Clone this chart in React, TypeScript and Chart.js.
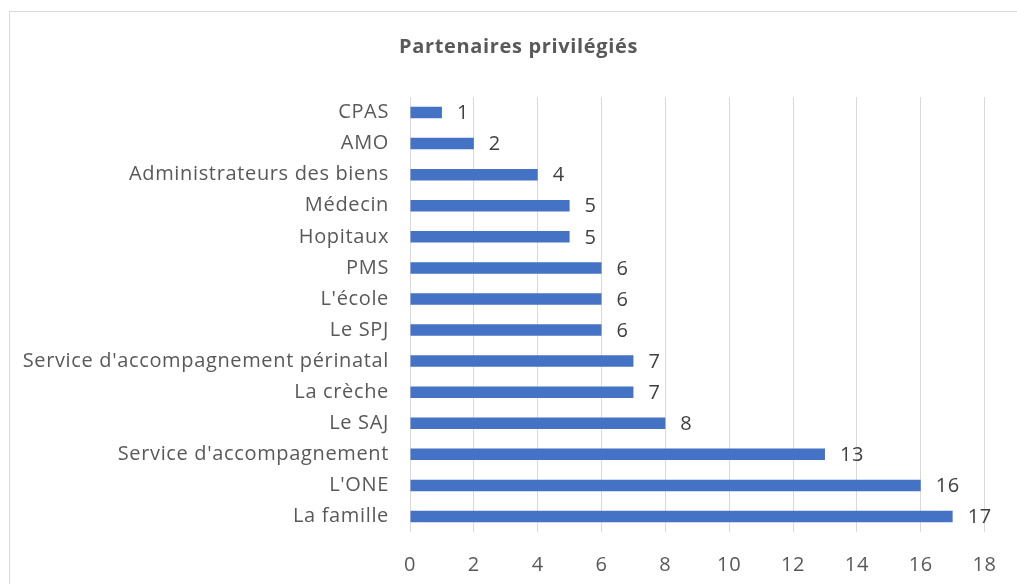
import React, { useEffect, useRef } from "react";
import { Chart, registerables } from "chart.js";

Chart.register(...registerables);

const chartTitle = "Partenaires privilégiés";
const categories = [
  "CPAS",
  "AMO",
  "Administrateurs des biens",
  "Médecin",
  "Hopitaux",
  "PMS",
  "L'école",
  "Le SPJ",
  "Service d'accompagnement périnatal",
  "La crèche",
  "Le SAJ",
  "Service d'accompagnement",
  "L'ONE",
  "La famille",
];
const values = [1, 2, 4, 5, 5, 6, 6, 6, 7, 7, 8, 13, 16, 17];
const xMin = 0;
const xMax = 18;
const xStep = 2;

const FONT = "'Open Sans', Lato, sans-serif";

const spacingPlugin = {
  id: "spacing",
  beforeDraw(chart: any) {
    chart.ctx.letterSpacing = "0.65px";
  },
};

const dataLabelPlugin = {
  id: "dataLabels",
  afterDatasetsDraw(chart: any) {
    const ctx = chart.ctx;
    const meta = chart.getDatasetMeta(0);
    ctx.save();
    ctx.font = `20px ${FONT}`;
    ctx.fillStyle = "#404040";
    ctx.textAlign = "left";
    ctx.textBaseline = "middle";
    meta.data.forEach((bar: any, i: number) => {
      const v = chart.data.datasets[0].data[i];
      ctx.fillText(String(v), bar.x + 15, bar.y + 1);
    });
    ctx.restore();
  },
};

export default function App() {
  const ref = useRef<HTMLCanvasElement | null>(null);
  useEffect(() => {
    if (!ref.current) return;
    const chart = new Chart(ref.current, {
      type: "bar",
      data: {
        labels: categories,
        datasets: [
          {
            data: values,
            backgroundColor: "#4472C4",
            borderWidth: 0,
            categoryPercentage: 1,
            barPercentage: 0.37,
          },
        ],
      },
      options: {
        indexAxis: "y",
        animation: false,
        responsive: false,
        devicePixelRatio: 1,
        layout: { padding: { left: 20, right: 0, top: 0, bottom: 0 } },
        plugins: {
          legend: { display: false },
          tooltip: { enabled: false },
          title: {
            display: true,
            text: chartTitle,
            color: "#595959",
            font: { family: FONT, size: 20, weight: "bold" },
            padding: { top: 35, bottom: 38 },
          },
        },
        scales: {
          x: {
            min: xMin,
            max: xMax,
            ticks: {
              stepSize: xStep,
              color: "#595959",
              font: { family: FONT, size: 20 },
              padding: 21,
            },
            grid: { color: "#d9d9d9", lineWidth: 1, drawTicks: false },
            border: { display: false },
            afterFit(scale: any) {
              scale.height = 52;
            },
          },
          y: {
            ticks: {
              color: "#595959",
              font: { family: FONT, size: 20 },
              padding: 21,
            },
            grid: { display: false, drawTicks: false },
            border: { display: false },
            afterFit(scale: any) {
              scale.width = 390;
            },
          },
          yRightSpace: {
            type: "category",
            axis: "y",
            position: "right",
            display: true,
            ticks: { display: false },
            grid: { display: false, drawTicks: false },
            border: { display: false },
            afterFit(scale: any) {
              scale.width = 31;
            },
          },
        },
      },
      plugins: [spacingPlugin, dataLabelPlugin],
    });
    return () => chart.destroy();
  }, []);
  return (
    <div
      style={{
        position: "fixed",
        left: 0,
        top: 0,
        width: 1017,
        height: 584,
        overflow: "hidden",
        background: "#fff",
      }}
    >
      <div
        style={{
          position: "absolute",
          left: 9,
          top: 11,
          width: 1100,
          height: 700,
          borderLeft: "1px solid #d9d9d9",
          borderTop: "1px solid #d9d9d9",
        }}
      />
      <canvas
        ref={ref}
        width={1017}
        height={584}
        style={{ position: "absolute", left: 0, top: 0, width: 1017, height: 584 }}
      />
    </div>
  );
}
